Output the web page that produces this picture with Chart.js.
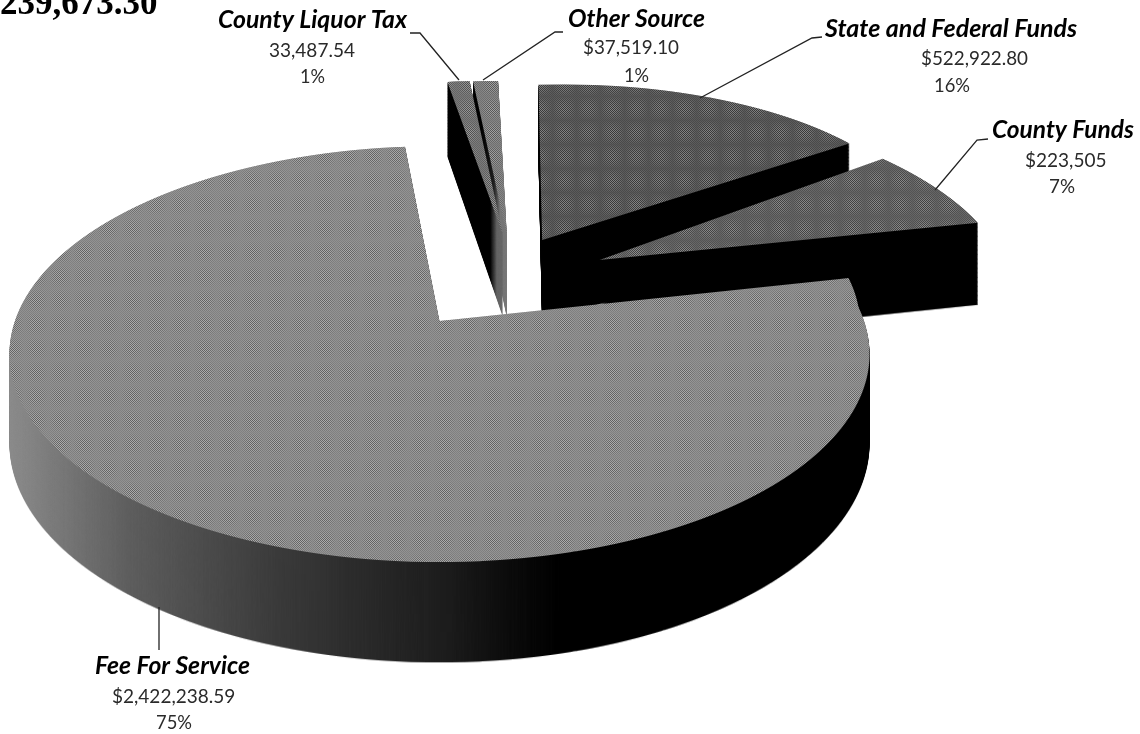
<!DOCTYPE html>
<html lang="en">
<head>
    <meta charset="UTF-8">
    <title>Revenue Sources</title>
    <style>
        body { margin: 0; background: #fff; }
        canvas { display: block; }
    </style>
</head>
<body>
    <canvas id="pie" width="1140" height="734"></canvas>
    <script src="https://cdn.jsdelivr.net/npm/chart.js@4.4.3/dist/chart.umd.min.js"></script>
    <script>
        // chart values
        const categories = ['State and Federal Funds', 'County Funds', 'Fee For Service', 'County Liquor Tax', 'Other Source'];
        const values = [522922.80, 223505, 2422238.59, 33487.54, 37519.10];
        const amountLabels = ['$522,922.80', '$223,505', '$2,422,238.59', '33,487.54', '$37,519.10'];
        const percentLabels = ['16%', '7%', '75%', '1%', '1%'];
        const headline = '239,673.30';

        // styles
        const faceColors = ['#505050', '#5a5a5a', '#8a8a8a', '#6e6e6e', '#7a7a7a'];
        const explode = [[0.258, -0.426], [0.396, -0.316], [0, 0], [0.16, -0.46], [0.17, -0.457]];
        const sliceTurn = [3.1, -3.5, 4, 1.5, 1.5];   // degrees, the picture's slices are not quite true to their share
        const sliceShear = [-0.1, 0, 0, 0, 0];
        const drawOrder = [4, 3, 0, 1, 2];

        // label layout: [left, baseline, width] for name, amount, percent
        const nameBoxes = [[825, 37, 258], [992, 138, 142], [95, 674, 155], [218, 28, 189], [568, 27, 137]];
        const amountBoxes = [[921, 65, 107], [1025, 167, 82], [112, 703, 124], [269, 57, 86], [583, 54, 96]];
        const percentBoxes = [[934, 92, 36], [1049, 193, 26], [156, 729, 36], [300, 83, 25], [624, 82, 25]];
        const leaders = [
            [[822, 37], [812, 38], [700, 98]],
            [[988, 139], [977, 140], [935, 190]],
            [[159, 607], [159, 650]],
            [[410, 33], [420, 33], [459, 80]],
            [[563, 32], [555, 32], [483, 80]]
        ];

        // perspective of the pie plane, fitted to the picture
        const R = 300;
        const view = { cx: 439.5, cy: 321, A: 424.6, B: 202.8, p: -0.1587 };

        function sideFill(ctx, i) {
            const g = ctx.createLinearGradient(0, 0, 1140, 0);
            const stop = (x, c) => g.addColorStop(x / 1140, c);
            if (i === 2) {
                stop(10, '#8c8c8c'); stop(130, '#5e5e5e'); stop(280, '#3a3a3a');
                stop(450, '#1c1c1c'); stop(560, '#000');
            } else if (i === 4) {
                stop(480, '#000'); stop(494, '#222'); stop(500, '#777');
            } else if (i === 3) {
                stop(470, '#000'); stop(490, '#000'); stop(497, '#666');
            } else {
                stop(0, '#000'); stop(1140, '#000');
            }
            return g;
        }

        // scan grain of the reference: pixel checker that swells on a coarse lattice
        function grainPattern(ctx) {
            const tile = document.createElement('canvas');
            tile.width = tile.height = 24;
            const t = tile.getContext('2d');
            for (let y = 0; y < 24; y++) {
                for (let x = 0; x < 24; x++) {
                    const amp = 0.06 + 0.24 * Math.abs(Math.sin(x * Math.PI / 24) * Math.sin(y * Math.PI / 24));
                    t.fillStyle = (x + y) % 2 ? `rgba(255,255,255,${amp})` : `rgba(0,0,0,${amp})`;
                    t.fillRect(x, y, 1, 1);
                }
            }
            return ctx.createPattern(tile, 'repeat');
        }

        // draws one slice row by row through the perspective
        function drawFace(off, arc, i, shear, onlyUpperRight) {
            const [du, dv] = explode[i];
            const { cx, cy, A, B, p } = view;
            const turn = sliceTurn[i] * Math.PI / 180;
            const rows = onlyUpperRight ? Math.floor(cy) : off.canvas.height;
            const left = onlyUpperRight ? cx : 0;
            for (let y = 0; y < rows; y++) {
                const d = y + 0.5 - cy;
                const v = d / (B - p * d);
                const w = 1 + p * v;
                const sx = A / w / R;
                const sy = B / (w * w) / R;
                off.save();
                off.beginPath();
                off.rect(left, y, off.canvas.width, 1);
                off.clip();
                off.setTransform(sx, 0, 0, sy, cx - sx * arc.x, y + 0.5 - sy * (arc.y + v * R));
                off.translate(du * R, dv * R);
                off.transform(1, shear, 0, 1, 0, -shear * arc.x);
                off.translate(arc.x, arc.y);
                off.rotate(turn);
                off.translate(-arc.x, -arc.y);
                arc.draw(off);
                off.restore();
            }
        }

        const pie3d = {
            id: 'pie3d',
            beforeDatasetsDraw(chart) {
                const ctx = chart.ctx;
                const arcs = chart.getDatasetMeta(0).data;
                const top = document.createElement('canvas');
                top.width = chart.width;
                top.height = chart.height;
                const side = document.createElement('canvas');
                side.width = chart.width;
                side.height = chart.height;
                const topCtx = top.getContext('2d');
                const sideCtx = side.getContext('2d');
                const grain = grainPattern(topCtx);

                drawOrder.forEach(i => {
                    topCtx.globalCompositeOperation = 'source-over';
                    topCtx.clearRect(0, 0, top.width, top.height);
                    drawFace(topCtx, arcs[i], i, sliceShear[i], false);
                    // the big slice's right edge sits higher in the picture than its share gives
                    if (i === 2) drawFace(topCtx, arcs[i], i, -0.14, true);

                    sideCtx.globalCompositeOperation = 'source-over';
                    sideCtx.clearRect(0, 0, side.width, side.height);
                    sideCtx.drawImage(top, 0, 0);
                    sideCtx.globalCompositeOperation = 'source-in';
                    sideCtx.fillStyle = sideFill(sideCtx, i);
                    sideCtx.fillRect(0, 0, side.width, side.height);

                    topCtx.globalCompositeOperation = 'source-atop';
                    topCtx.fillStyle = grain;
                    topCtx.fillRect(0, 0, top.width, top.height);

                    ctx.save();
                    for (let t = 1; t > 0; t -= 0.01) {
                        ctx.setTransform(1, 0, 0, 1 + 0.054 * t, 0, 70 * t);
                        ctx.drawImage(side, 0, 0);
                    }
                    ctx.setTransform(1, 0, 0, 1, 0, 0);
                    ctx.drawImage(top, 0, 0);
                    ctx.restore();
                });
                return false;
            },
            afterDraw(chart) {
                const ctx = chart.ctx;
                ctx.save();
                ctx.strokeStyle = '#222';
                ctx.lineWidth = 1.3;
                leaders.forEach(pts => {
                    ctx.beginPath();
                    pts.forEach((pt, n) => n ? ctx.lineTo(pt[0], pt[1]) : ctx.moveTo(pt[0], pt[1]));
                    ctx.stroke();
                });

                ctx.textAlign = 'left';
                ctx.textBaseline = 'alphabetic';
                ctx.fillStyle = '#000';
                ctx.font = 'bold 35px "Liberation Serif"';
                ctx.fillText(headline, 0, 14);

                categories.forEach((name, i) => {
                    ctx.fillStyle = '#000';
                    ctx.font = 'italic bold 25px Lato';
                    ctx.fillText(name, nameBoxes[i][0], nameBoxes[i][1], nameBoxes[i][2]);
                    ctx.fillStyle = '#2a2a2a';
                    ctx.font = '19px Lato';
                    ctx.fillText(amountLabels[i], amountBoxes[i][0], amountBoxes[i][1], amountBoxes[i][2]);
                    ctx.fillText(percentLabels[i], percentBoxes[i][0], percentBoxes[i][1], percentBoxes[i][2]);
                });
                ctx.restore();
            }
        };

        new Chart(document.getElementById('pie'), {
            type: 'pie',
            data: {
                labels: categories,
                datasets: [{
                    data: values,
                    backgroundColor: faceColors,
                    borderWidth: 0
                }]
            },
            options: {
                responsive: false,
                animation: false,
                rotation: -1.5,
                radius: R,
                plugins: {
                    legend: { display: false },
                    tooltip: { enabled: false }
                }
            },
            plugins: [pie3d]
        });
    </script>
</body>
</html>
